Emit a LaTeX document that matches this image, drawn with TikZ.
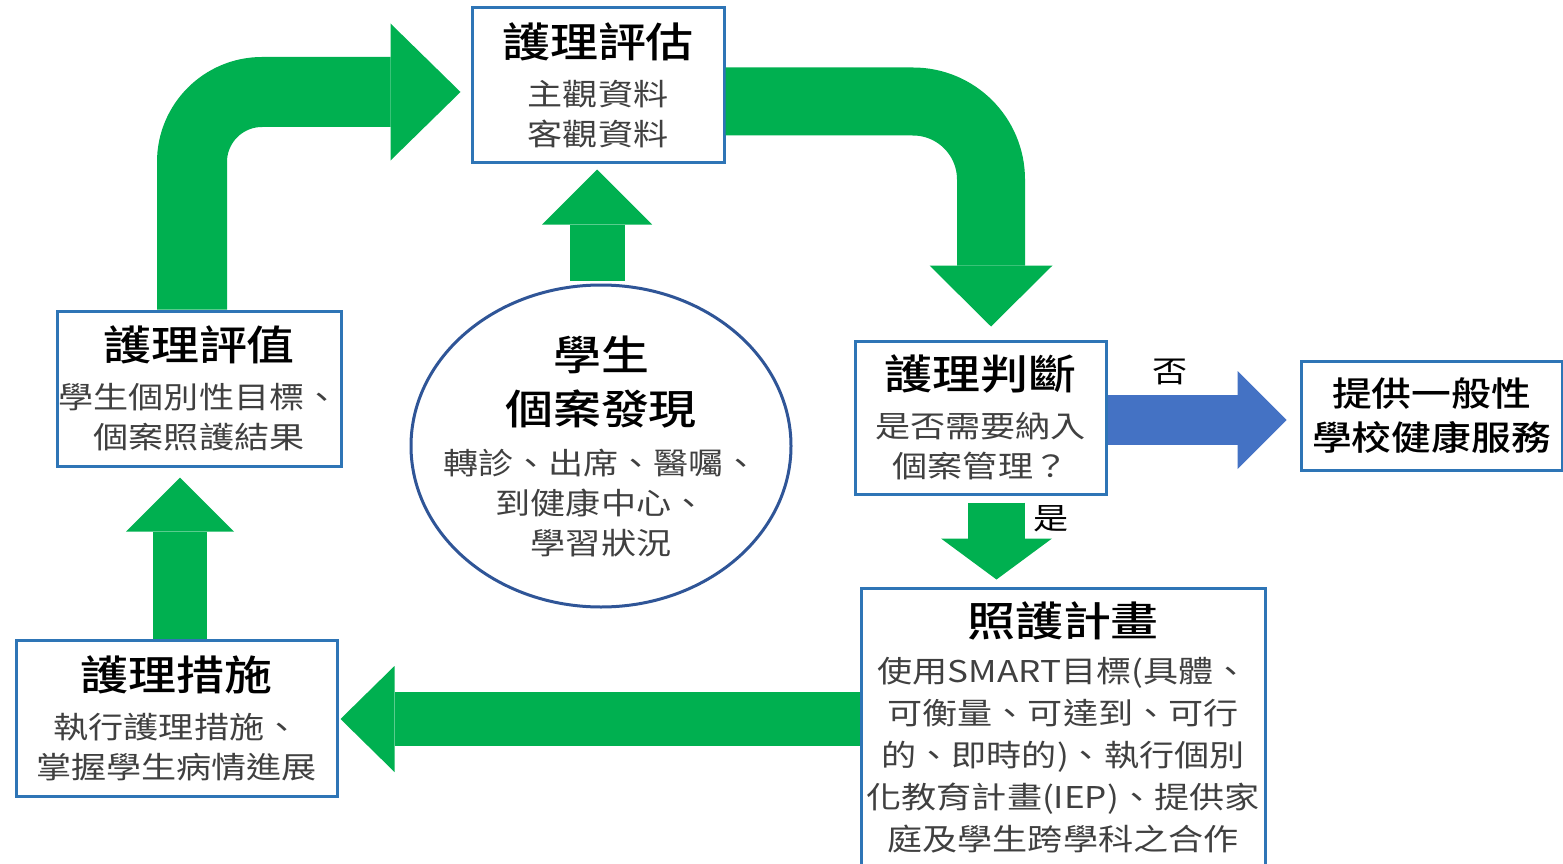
\documentclass[tikz,border=0pt]{standalone}
\usepackage{fontspec}
\setmainfont[FakeStretch=1.17, BoldFont={Noto Sans CJK TC Medium}]{Noto Sans CJK TC}
\usetikzlibrary{shapes.geometric,arrows.meta,positioning}
\definecolor{flowgreen}{RGB}{0,176,80}
\definecolor{flowblue}{RGB}{68,114,196}
\definecolor{boxblue}{RGB}{46,117,182}
\definecolor{ringblue}{RGB}{47,85,151}
\def\titlefont{\fontsize{41pt}{48pt}\selectfont\bfseries\color{black}}
\def\bodyfont{\fontsize{30pt}{40pt}\selectfont}
\def\boxline{3pt}

\begin{document}
\begin{tikzpicture}[
            x=1pt, y=-1pt,
            stepbox/.style={%
                rectangle, draw=boxblue, line width=\boxline, fill=white,%
                align=center, inner sep=0pt, font=\bodyfont, text=black!75%
            },
            ring/.style={%
                ellipse, draw=ringblue, line width=\boxline, fill=white,%
                align=center, inner xsep=-30pt, inner ysep=0pt,%
                minimum width=380pt, minimum height=322pt,%
                font=\bodyfont, text=black!75%
            },
            blockarrow/.style n args={4}{%
                draw=#1, line width=#2,%
                -{Triangle[length=#3, width=#4, line width=0pt]}%
            },
            flowlabel/.style={%
                inner sep=0pt, outer sep=0pt, font=\bodyfont, text=black%
            }
        ]

        \clip (0,0) rectangle (1563,864);

        % Define nodes
        \node (assess) [stepbox, minimum width=252pt, minimum height=154pt] at (598,85) {
            {\titlefont 護理評估}\\[8pt]
            主觀資料\\
            客觀資料
        };

        \node (evalu) [stepbox, minimum width=284pt, minimum height=155pt] at (199,388.5) {
            {\titlefont 護理評值}\\[8pt]
            學生個別性目標、\\
            個案照護結果
        };

        \node (impl) [stepbox, minimum width=321pt, minimum height=156pt] at (176.5,718) {
            {\titlefont 護理措施}\\[8pt]
            執行護理措施、\\
            掌握學生病情進展
        };

        \node (judge) [stepbox, minimum width=251pt, minimum height=153pt] at (980.5,417.5) {
            {\titlefont 護理判斷}\\[8pt]
            是否需要納入\\
            個案管理？
        };

        \node (general) [
                stepbox, minimum width=261pt, minimum height=109pt,
                font=\fontsize{34pt}{44pt}\selectfont\bfseries, text=black
            ] at (1431.5,415.5) {
            提供一般性\\
            學校健康服務
        };

        \node (plan) [
                stepbox, minimum width=404pt, minimum height=279pt,
                font=\fontsize{30pt}{42pt}\selectfont
            ] at (1063,727.5) {
            {\titlefont 照護計畫}\\[4pt]
            使用SMART目標(具體、\\
            可衡量、可達到、可行\\
            的、即時的)、執行個別\\
            化教育計畫(IEP)、提供家\\
            庭及學生跨學科之合作
        };

        \node (circ) [ring] at (601,446) {
            {\titlefont 學生}\\[14pt]
            {\titlefont 個案發現}\\[10pt]
            轉診、出席、醫囑、\\
            到健康中心、\\
            學習狀況
        };

        % Define arrows
        \draw [blockarrow={flowgreen}{70pt}{70pt}{137pt}, rounded corners=70pt]
            ([xshift=-7pt]evalu.north) |- ([xshift=-10pt,yshift=-7pt]assess.west);
        \draw [blockarrow={flowgreen}{68pt}{61pt}{123pt}, rounded corners=78pt]
            ([yshift=-16.5pt]assess.east) -| ([xshift=10.5pt,yshift=13pt]judge.north);
        \draw [blockarrow={flowgreen}{55pt}{55pt}{110pt}]
            ([xshift=-4pt,yshift=3pt]circ.north) -- ([xshift=-1pt,yshift=-6pt]assess.south);
        \draw [blockarrow={flowgreen}{54pt}{54pt}{108pt}]
            ([xshift=3.5pt]impl.north) -- ([xshift=-19pt,yshift=-10pt]evalu.south);
        \draw [blockarrow={flowgreen}{54pt}{54pt}{106pt}]
            ([yshift=8.5pt]plan.west) -- ([xshift=2pt,yshift=-1pt]impl.east);
        \draw [blockarrow={flowblue}{50pt}{49pt}{98pt}]
            ([yshift=-2.5pt]judge.east) --
            node (nolabel) [flowlabel, pos=0.35, above=35pt] {否}
            ([xshift=-13pt,yshift=-4.5pt]general.west);
        \draw [blockarrow={flowgreen}{57pt}{41pt}{111pt}]
            ([xshift=16pt,yshift=-7pt]judge.south) --
            node (yeslabel) [flowlabel, pos=0.21, right=37pt] {是}
            ([xshift=-66.5pt,yshift=7pt]plan.north);

\end{tikzpicture}
\end{document}
